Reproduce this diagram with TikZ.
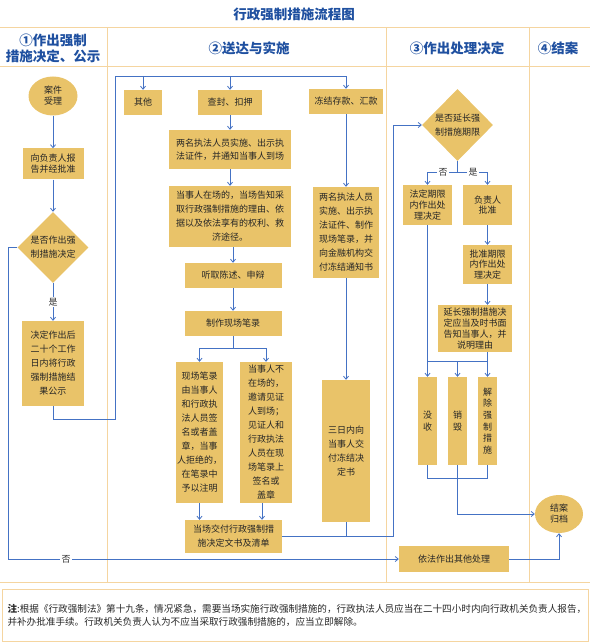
\documentclass[tikz,border=0pt]{standalone}
\usepackage{fontspec}
\setmainfont{Noto Sans CJK SC}
\usepackage{tikz}
\usetikzlibrary{arrows.meta,shapes.geometric}
\definecolor{boxfill}{RGB}{233,195,105}
\definecolor{flow}{RGB}{68,114,196}
\definecolor{lanecol}{RGB}{245,213,160}
\definecolor{headblue}{RGB}{31,80,160}

\begin{document}
\begin{tikzpicture}[x=1pt, y=-1pt,
  box/.style 2 args={fill=boxfill, minimum width=#1pt, minimum height=#2pt, inner sep=0pt,
                     align=center, text=black!85, font=\fontsize{9}{14}\selectfont},
  tight/.style={font=\fontsize{9}{10.8}\selectfont},
  vbox/.style={box={19}{88}, font=\fontsize{9}{11.7}\selectfont},
  oval/.style 2 args={ellipse, fill=boxfill, minimum width=#1pt, minimum height=#2pt, inner sep=0pt,
                      align=center, text=black!85, font=\fontsize{9}{11}\selectfont},
  dia/.style={diamond, aspect=1, fill=boxfill, minimum width=71pt, minimum height=71pt, inner sep=0pt,
              align=center, text=black!85, font=\fontsize{9}{14}\selectfont},
  line/.style={draw=flow, line width=0.8pt},
  arr/.style={line, -{Straight Barb[length=3pt,width=5pt]}},
  lbl/.style={fill=white, inner sep=1.5pt, text=black!80, font=\fontsize{9}{10}\selectfont},
  head/.style={text=headblue, align=center, font=\fontsize{13.5}{16}\selectfont\bfseries},
  lane/.style={draw=lanecol, line width=1pt},
]
\useasboundingbox (0,0) rectangle (590,644);

% lanes
\draw[lane] (0,28) -- (590,28);
\draw[lane] (0,67) -- (590,67);
\draw[lane] (0,582) -- (590,582);
\foreach \x in {107,386,529} {
  \draw[lane] (\x,28) -- (\x,582);
}
\draw[lane] (2,589) rectangle (588,641);

% title and headers
\node[head] (title) at (294,14) {行政强制措施流程图};
\node[head] (h1) at (53,48) {①作出强制\\措施决定、公示};
\node[head] (h2) at (249,48) {②送达与实施};
\node[head] (h3) at (457,48) {③作出处理决定};
\node[head] (h4) at (558,48) {④结案};

% column 1
\node[oval={49}{39}] (accept) at (53,96) {案件\\受理};
\node[box={61}{31}, tight] (report) at (53,164) {向负责人报\\告并经批准};
\node[dia] (decide) at (53,247.5) {是否作出强\\制措施决定};
\node[box={62}{85}] (publish) at (53,363.5) {决定作出后\\二十个工作\\日内将行政\\强制措施结\\果公示};

% column 2
\node[box={38}{25}] (other) at (143,102.5) {其他};
\node[box={64}{25}] (seal) at (230,102.5) {查封、扣押};
\node[box={74}{25}] (freeze) at (346,101.5) {冻结存款、汇款};
\node[box={122}{39}, font=\fontsize{9}{13}\selectfont] (twoA) at (230,149.5)
  {两名执法人员实施、出示执\\法证件，并通知当事人到场};
\node[box={122}{61}] (inform) at (230,216.5)
  {当事人在场的，当场告知采\\取行政强制措施的理由、依\\据以及依法享有的权利、救\\济途径。};
\node[box={97}{25}] (hear) at (233,275.5) {听取陈述、申辩};
\node[box={97}{25}] (record) at (233,323.5) {制作现场笔录};
\node[box={47}{141}] (sign) at (199.5,432.5)
  {现场笔录\\由当事人\\和行政执\\法人员签\\名或者盖\\章，当事\\人拒绝的，\\在笔录中\\予以注明};
\node[box={52}{141}] (witness) at (266,432.5)
  {当事人不\\在场的，\\邀请见证\\人到场；\\见证人和\\行政执法\\人员在现\\场笔录上\\签名或\\盖章};
\node[box={97}{33}] (deliver) at (233.5,536.5) {当场交付行政强制措\\施决定文书及清单};
\node[box={66}{91}] (twoB) at (346,232.5)
  {两名执法人员\\实施、出示执\\法证件、制作\\现场笔录，并\\向金融机构交\\付冻结通知书};
\node[box={48}{142}] (threeday) at (346,451) {三日内向\\当事人交\\付冻结决\\定书};

% column 3
\node[dia, minimum height=72pt] (extend) at (457.5,125) {是否延长强\\制措施期限};
\node[box={49}{40}, tight] (legal) at (427.5,205) {法定期限\\内作出处\\理决定};
\node[box={49}{40}, tight] (approve) at (487.5,205) {负责人\\批准};
\node[box={49}{39}, tight] (approved) at (487.5,264.5) {批准期限\\内作出处\\理决定};
\node[box={74}{47}, tight] (notify) at (475,328.5) {延长强制措施决\\定应当及时书面\\告知当事人，并\\说明理由};
\node[vbox] (confiscate) at (427.5,421) {没\\收};
\node[vbox] (destroy) at (457.5,421) {销\\毁};
\node[vbox] (release) at (487.5,421) {解\\除\\强\\制\\措\\施};
\node[box={110}{26}] (othertreat) at (454,559) {依法作出其他处理};

% column 4
\node[oval={48}{38}] (close) at (559,514) {结案\\归档};

% note
\node[anchor=west, align=left, text=black!85, font=\fontsize{9.6}{13}\selectfont] (note) at (4,615.5)
  {\textbf{注}:根据《行政强制法》第十九条，情况紧急，需要当场实施行政强制措施的，行政执法人员应当在二十四小时内向行政机关负责人报告，\\并补办批准手续。行政机关负责人认为不应当采取行政强制措施的，应当立即解除。};

% connectors, column 1
\draw[arr] (accept) -- (report);
\draw[arr] (report) -- (decide);
\draw[arr] (decide) -- node[lbl]{是} (publish);
\draw[arr] (decide.west) -- ++(-9,0) |- node[lbl, pos=0.574]{否} (othertreat.west);

% connectors, column 2
\coordinate (bus) at (115,76);
\draw[arr] (publish.south) -- ++(0,13) -| (bus) -| (freeze.north);
\draw[arr] (bus -| other.north) -- (other.north);
\draw[arr] (bus -| seal.north) -- (seal.north);
\draw[arr] (seal) -- (twoA);
\draw[arr] (twoA) -- (inform);
\draw[arr] (inform.south -| hear.north) -- (hear.north);
\draw[arr] (hear) -- (record);
\draw[arr] (record.south) -- ++(0,12) -| (sign.north);
\draw[arr] (record.south) -- ++(0,12) -| (witness.north);
\draw[arr] (sign.south) -- (sign.south |- deliver.north);
\draw[arr] ([xshift=-4pt]witness.south) -- ([xshift=-4pt]witness.south |- deliver.north);
\draw[arr] (freeze) -- (twoB);
\draw[arr] (twoB) -- (threeday);
\draw[line] (threeday.south) -- (threeday.south |- deliver.east);
\draw[arr] (deliver.east) -- ++(111,0) |- (extend.west);

% connectors, column 3
\draw[line] (extend.south) -- ++(0,11) coordinate (ynsplit);
\draw[arr] (ynsplit) -| node[lbl, pos=0.24]{否} (legal.north);
\draw[arr] (ynsplit) -| node[lbl, pos=0.26]{是} (approve.north);
\draw[arr] (approve) -- (approved);
\draw[arr] (approved.south) -- (approved.south |- notify.north);
\path (destroy.north) ++(0,-15) coordinate (merge);
\draw[line] (legal.south) |- (merge);
\draw[line] (notify.south -| approved.south) |- (merge);
\draw[arr] (merge) -- (destroy.north);
\draw[arr] (merge) -| (confiscate.north);
\draw[arr] (merge) -| (release.north);
\draw[line] (confiscate.south) -- ++(0,13) -| (release.south);
\draw[arr] (destroy.south) |- (close.west);
\draw[arr] (othertreat.east) -| (close.south);
\end{tikzpicture}
\end{document}
